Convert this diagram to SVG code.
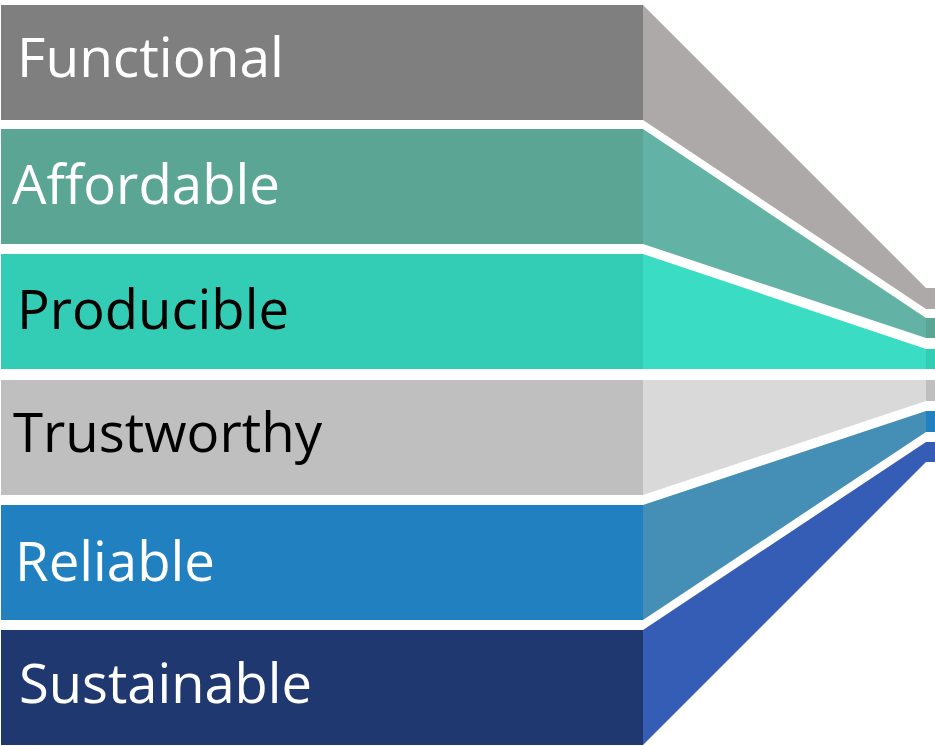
<svg xmlns="http://www.w3.org/2000/svg" width="935" height="746" viewBox="0 0 935 746">
<style>
.lbl{font-family:"Open Sans","Noto Sans","Liberation Sans",sans-serif;font-size:54px}
.w{fill:#ffffff}
.k{fill:#000000}
</style>
<rect x="0" y="0" width="935" height="746" fill="#ffffff"/>
<g id="connectors">
<polygon points="643,5 926,288 926,309 643,120" fill="#ADA9A8"/>
<polygon points="643,129 926,318 926,338 643,244" fill="#62B3A5"/>
<polygon points="643,254 926,349 926,369 643,369" fill="#3ADDC3"/>
<polygon points="643,380 926,380 926,401 643,495" fill="#D9D9D9"/>
<polygon points="643,505 926,411 926,432 643,620" fill="#458FB6"/>
<polygon points="643,630 926,442 926,462 643,745" fill="#365DB5"/>
</g>
<g id="functional">
<rect x="1" y="5" width="642" height="115" fill="#7F7F7F"/>
<rect x="926" y="288" width="9" height="21" fill="#ADA9A8"/>
<text class="lbl w" x="17" y="77" textLength="267" lengthAdjust="spacingAndGlyphs">Functional</text>
</g>
<g id="affordable">
<rect x="1" y="129" width="642" height="115" fill="#5BA595"/>
<rect x="926" y="318" width="9" height="20" fill="#5BA595"/>
<text class="lbl w" x="12" y="204" textLength="268" lengthAdjust="spacingAndGlyphs">Affordable</text>
</g>
<g id="producible">
<rect x="1" y="254" width="642" height="115" fill="#33CCB5"/>
<rect x="926" y="349" width="9" height="20" fill="#33CCB5"/>
<text class="lbl k" x="17" y="329" textLength="272" lengthAdjust="spacingAndGlyphs">Producible</text>
</g>
<g id="trustworthy">
<rect x="1" y="380" width="642" height="115" fill="#BFBFBF"/>
<rect x="926" y="380" width="9" height="21" fill="#BFBFBF"/>
<text class="lbl k" x="13" y="452" textLength="309" lengthAdjust="spacingAndGlyphs">Trustworthy</text>
</g>
<g id="reliable">
<rect x="1" y="505" width="642" height="115" fill="#2180C0"/>
<rect x="926" y="411" width="9" height="21" fill="#2180C0"/>
<text class="lbl w" x="15" y="581" textLength="200" lengthAdjust="spacingAndGlyphs">Reliable</text>
</g>
<g id="sustainable">
<rect x="1" y="630" width="642" height="115" fill="#203870"/>
<rect x="926" y="442" width="9" height="20" fill="#365DB5"/>
<text class="lbl w" x="19" y="703" textLength="293" lengthAdjust="spacingAndGlyphs">Sustainable</text>
</g>
</svg>
